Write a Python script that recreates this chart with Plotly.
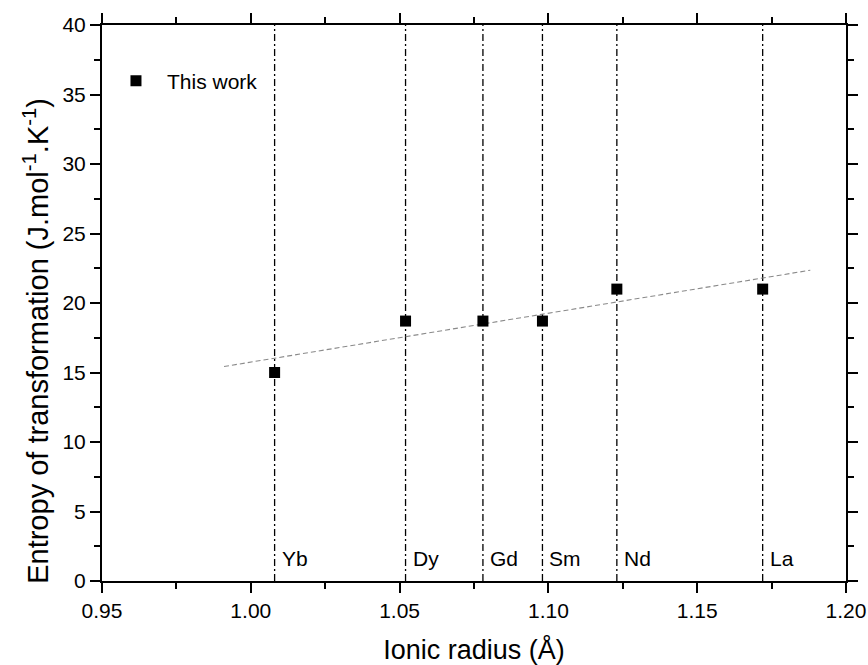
import plotly.graph_objects as go

# Data
elements = ["Yb", "Dy", "Gd", "Sm", "Nd", "La"]
ionic_radius = [1.008, 1.052, 1.078, 1.098, 1.123, 1.172]
entropy = [15.0, 18.7, 18.7, 18.7, 21.0, 21.0]
# linear trend line endpoints
fit_x = [0.991, 1.188]
fit_y = [15.43, 22.36]
x_ticks = [0.95, 1.00, 1.05, 1.10, 1.15, 1.20]
y_ticks = [0, 5, 10, 15, 20, 25, 30, 35, 40]
y_range = [0, 40]
x_range = [0.95, 1.20]
label_y = 1.6

FONT = "Arial, Liberation Sans, sans-serif"

fig = go.Figure()

# vertical dash-dot lines at each element's radius
vx, vy = [], []
for r in ionic_radius:
    vx += [r, r, None]
    vy += [y_range[0], y_range[1], None]
fig.add_trace(go.Scatter(
    x=vx, y=vy, mode="lines", showlegend=False, hoverinfo="skip",
    line=dict(color="black", width=1.3, dash="7px,3px,2px,3px"),
))

# trend line
fig.add_trace(go.Scatter(
    x=fit_x, y=fit_y, mode="lines", showlegend=False, hoverinfo="skip",
    line=dict(color="#8a8a8a", width=1.1, dash="5px,3px"),
))

# data points
fig.add_trace(go.Scatter(
    x=ionic_radius, y=entropy, mode="markers", name="This work",
    marker=dict(symbol="square", size=11, color="black",
                line=dict(width=0)),
))

for el, r in zip(elements, ionic_radius):
    fig.add_annotation(
        x=r, y=label_y, text=el, showarrow=False,
        xanchor="left", yanchor="middle", xshift=5,
        font=dict(family=FONT, size=21, color="black"),
    )

# y-axis title placed as rotated annotation
fig.add_annotation(
    xref="paper", yref="paper", x=-0.0887, y=0.432,
    text="Entropy of transformation (J.mol<sup>-1</sup>.K<sup>-1</sup>)",
    textangle=-90, showarrow=False, xanchor="center", yanchor="middle",
    font=dict(family=FONT, size=29, color="black"),
)

axis_common = dict(
    showline=True, linecolor="black", linewidth=2, mirror="ticks",
    ticks="outside", ticklen=10, tickwidth=2, tickcolor="black",
    showgrid=False, zeroline=False,
    tickfont=dict(family=FONT, size=21, color="black"),
)

fig.update_xaxes(
    range=x_range, tickvals=x_ticks, tickformat=".2f",
    minor=dict(ticks="outside", ticklen=6, tickwidth=2, tickcolor="black",
               dtick=0.025, tick0=0.95, showgrid=False),
    title=dict(text="Ionic radius (Å)", standoff=20,
               font=dict(family=FONT, size=27, color="black")),
    **axis_common,
)
fig.update_yaxes(
    range=y_range, tickvals=y_ticks,
    minor=dict(ticks="outside", ticklen=6, tickwidth=2, tickcolor="black",
               dtick=2.5, tick0=0, showgrid=False),
    **axis_common,
)

fig.update_layout(
    width=868, height=665,
    margin=dict(l=102, r=22, t=25, b=84, autoexpand=False),
    paper_bgcolor="white", plot_bgcolor="white",
    font=dict(family=FONT, color="black"),
    showlegend=True,
    legend=dict(x=0.004, y=0.936, xanchor="left", yanchor="top",
                itemwidth=52,
                bgcolor="rgba(0,0,0,0)", borderwidth=0,
                font=dict(family=FONT, size=21, color="black")),
)

fig.write_html("out.html")
